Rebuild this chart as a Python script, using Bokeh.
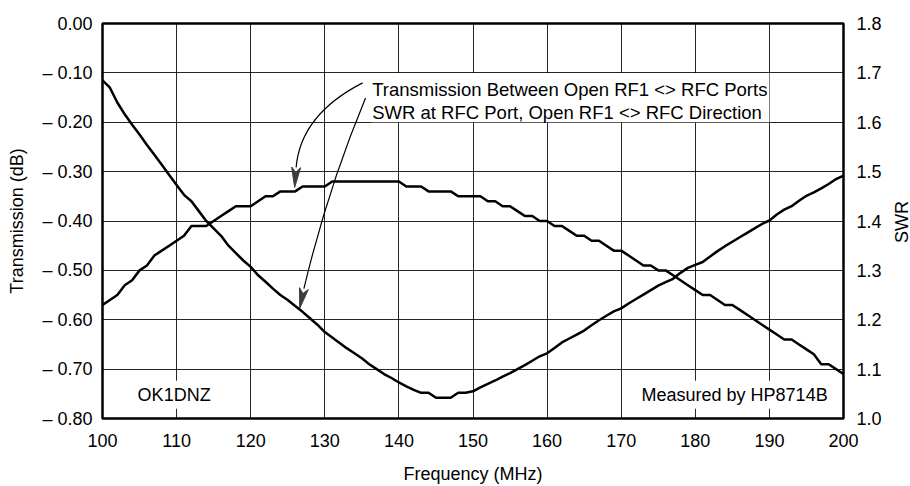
import math
from bokeh.plotting import figure
from bokeh.models import (Range1d, LinearAxis, FixedTicker, CustomJSTickFormatter,
                          PrintfTickFormatter, Label, BoxAnnotation, Div)
from bokeh.layouts import row
from bokeh.embed import file_html
from bokeh.resources import INLINE

# ---------------- data ----------------
freq_mhz = list(range(100, 201))

transmission_db = [
    -0.57, -0.56, -0.55, -0.53, -0.52, -0.50, -0.49, -0.47, -0.46, -0.45,
    -0.44, -0.43, -0.41, -0.41, -0.41, -0.40, -0.39, -0.38, -0.37, -0.37,
    -0.37, -0.36, -0.35, -0.35, -0.34, -0.34, -0.34, -0.33, -0.33, -0.33,
    -0.33, -0.32, -0.32, -0.32, -0.32, -0.32, -0.32, -0.32, -0.32, -0.32,
    -0.32, -0.33, -0.33, -0.33, -0.34, -0.34, -0.34, -0.34, -0.35, -0.35,
    -0.35, -0.35, -0.36, -0.36, -0.37, -0.37, -0.38, -0.39, -0.39, -0.40,
    -0.40, -0.41, -0.41, -0.42, -0.43, -0.43, -0.44, -0.44, -0.45, -0.46,
    -0.46, -0.47, -0.48, -0.49, -0.49, -0.50, -0.50, -0.51, -0.52, -0.53,
    -0.54, -0.55, -0.55, -0.56, -0.57, -0.57, -0.58, -0.59, -0.60, -0.61,
    -0.62, -0.63, -0.64, -0.64, -0.65, -0.66, -0.67, -0.69, -0.69, -0.70,
    -0.71,
]

swr = [
    1.685, 1.670, 1.640, 1.616, 1.595, 1.575, 1.554, 1.534, 1.514, 1.493,
    1.473, 1.453, 1.440, 1.420, 1.400, 1.385, 1.370, 1.350, 1.335, 1.320,
    1.307, 1.290, 1.277, 1.263, 1.250, 1.240, 1.228, 1.216, 1.203, 1.190,
    1.175, 1.164, 1.153, 1.142, 1.132, 1.122, 1.110, 1.100, 1.090, 1.082,
    1.073, 1.065, 1.058, 1.052, 1.052, 1.042, 1.042, 1.042, 1.052, 1.052,
    1.055, 1.063, 1.070, 1.077, 1.085, 1.092, 1.100, 1.108, 1.117, 1.126,
    1.132, 1.143, 1.154, 1.162, 1.170, 1.178, 1.189, 1.199, 1.208, 1.217,
    1.223, 1.233, 1.242, 1.251, 1.260, 1.269, 1.276, 1.283, 1.295, 1.305,
    1.311, 1.317, 1.328, 1.339, 1.349, 1.358, 1.367, 1.376, 1.385, 1.394,
    1.401, 1.413, 1.423, 1.430, 1.441, 1.451, 1.458, 1.466, 1.475, 1.485,
    1.492,
]

x_ticks = [100, 110, 120, 130, 140, 150, 160, 170, 180, 190, 200]
db_ticks = [0.0, -0.1, -0.2, -0.3, -0.4, -0.5, -0.6, -0.7, -0.8]
swr_ticks = [1.0, 1.1, 1.2, 1.3, 1.4, 1.5, 1.6, 1.7, 1.8]

FONT = "Liberation Sans"
FS = "18px"

# ---------------- figure ----------------
p = figure(width=895, height=486,
           x_range=Range1d(100, 200), y_range=Range1d(-0.8, 0.0),
           output_backend="svg", toolbar_location=None,
           min_border_left=102, min_border_right=52,
           min_border_top=23, min_border_bottom=65)
p.background_fill_color = "white"
p.border_fill_color = "white"
p.outline_line_color = "black"
p.outline_line_width = 2.5

def style_axis(ax):
    ax.axis_line_color = None
    ax.major_tick_in = 0
    ax.major_tick_out = 0
    ax.minor_tick_in = 0
    ax.minor_tick_out = 0
    ax.major_label_text_font = FONT
    ax.major_label_text_font_size = FS
    ax.major_label_text_color = "black"
    ax.axis_label_text_font = FONT
    ax.axis_label_text_font_size = FS
    ax.axis_label_text_font_style = "normal"
    ax.axis_label_text_color = "black"

xax = p.xaxis[0]
style_axis(xax)
xax.ticker = FixedTicker(ticks=x_ticks)
xax.axis_label = "Frequency (MHz)"
xax.major_label_standoff = 15
xax.axis_label_standoff = 14

yax = p.yaxis[0]
style_axis(yax)
yax.ticker = FixedTicker(ticks=db_ticks)
yax.formatter = CustomJSTickFormatter(
    code="return tick > -0.001 ? '0.00' : '\u2013 ' + Math.abs(tick).toFixed(2);")
yax.axis_label = "Transmission (dB)"
yax.major_label_standoff = 10
yax.axis_label_standoff = 12

p.xgrid.ticker = FixedTicker(ticks=x_ticks)
p.ygrid.ticker = FixedTicker(ticks=db_ticks)
for g in (p.xgrid[0], p.ygrid[0]):
    g.grid_line_color = "black"
    g.grid_line_width = 1
    g.grid_line_alpha = 0.85

p.extra_y_ranges = {"swr": Range1d(1.0, 1.8)}
rax = LinearAxis(y_range_name="swr")
style_axis(rax)
rax.ticker = FixedTicker(ticks=swr_ticks)
rax.formatter = PrintfTickFormatter(format="%.1f")
rax.major_label_standoff = 13
p.add_layout(rax, "right")

# ---------------- curves ----------------
p.line(freq_mhz, transmission_db, line_color="black", line_width=2.5)
p.line(freq_mhz, swr, line_color="black", line_width=2.5, y_range_name="swr")

# ---------------- annotations ----------------
# white panel behind the callout text
p.add_layout(BoxAnnotation(left=136.3, right=190.0, top=-0.10, bottom=-0.20,
                           fill_color="white", fill_alpha=1.0, line_color=None,
                           level="glyph"))

def lab(x, y, text, align="left", bg=None, size=FS):
    kw = dict(x=x, y=y, text=text, text_font=FONT, text_font_size=size,
              text_color="black", text_align=align, text_baseline="alphabetic")
    if bg:
        kw.update(background_fill_color=bg, background_fill_alpha=1.0, padding=4)
    p.add_layout(Label(**kw))

lab(136.4, -0.133, "Transmission Between Open RF1 <> RFC Ports", size="18.5px")
lab(136.4, -0.181, "SWR at RFC Port, Open RF1 <> RFC Direction", size="18.5px")
lab(104.2, -0.752, "OK1DNZ", bg="white")
lab(198.4, -0.752, "Measured by HP8714B", align="right", bg="white")

# callout arrows (shafts)
p.quadratic(x0=[135.10], y0=[-0.1202], cx=[126.74], cy=[-0.1846],
            x1=[126.13], y1=[-0.2913], line_color="black", line_width=1.2)
p.quadratic(x0=[135.50], y0=[-0.151], cx=[130.38], cy=[-0.3356],
            x1=[127.18], y1=[-0.5369], line_color="black", line_width=1.2)

# arrow heads (pixel-sized, converted through the frame scale)
SX, SY = 7.416, 496.75   # px per MHz, px per dB unit in the frame

def head(tip, base, width=9.0):
    tx, ty = tip[0] * SX, tip[1] * SY
    bx, by = base[0] * SX, base[1] * SY
    dx, dy = tx - bx, ty - by
    L = math.hypot(dx, dy)
    ux, uy = dx / L, dy / L
    px_, py_ = -uy, ux
    pts = [(tx, ty),
           (bx + px_ * width / 2, by + py_ * width / 2),
           (bx + ux * L * 0.25, by + uy * L * 0.25),
           (bx - px_ * width / 2, by - py_ * width / 2)]
    xs = [a / SX for a, b in pts]
    ys = [b / SY for a, b in pts]
    p.patch(xs, ys, fill_color="#3c3c3c", line_color="#3c3c3c", line_width=1)

head((125.93, -0.3322), (126.13, -0.2913))
head((126.61, -0.5772), (127.18, -0.5369))

# right-axis title, reading bottom-to-top (like the left one), at the page edge
swr_title = Div(text="SWR", width=15, height=486,
                styles={"writing-mode": "vertical-rl",
                        "transform": "rotate(180deg) translate(5px, 26px)",
                        "font-family": "Liberation Sans",
                        "font-size": "18px",
                        "color": "black",
                        "display": "flex",
                        "align-items": "center",
                        "justify-content": "center",
                        "white-space": "nowrap",
                        "overflow": "visible"})

layout = row(p, swr_title, spacing=0)
open("out.html", "w").write(file_html(layout, INLINE))
